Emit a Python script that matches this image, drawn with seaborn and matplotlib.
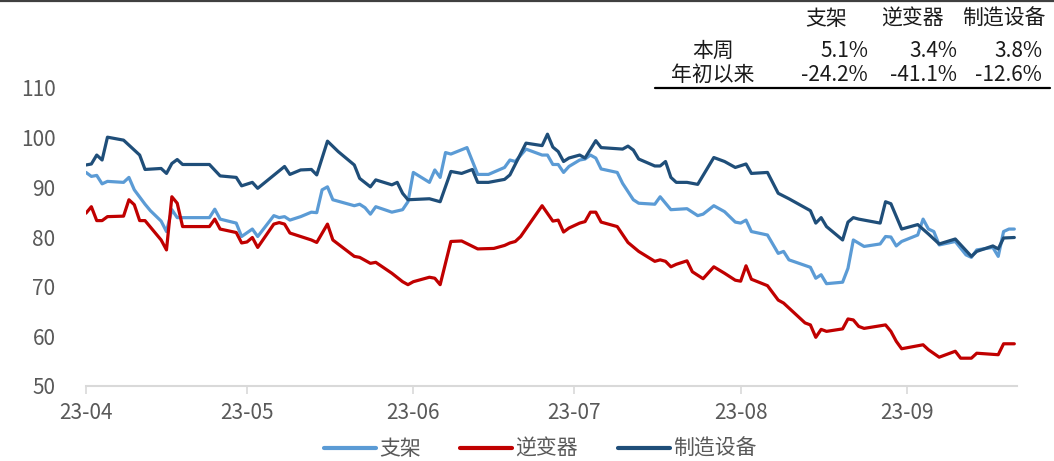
import pandas as pd
import matplotlib
matplotlib.use("Agg")
import matplotlib.pyplot as plt
import matplotlib.dates as mdates
from matplotlib.lines import Line2D
import seaborn as sns

# ---------------- data ----------------
series_names = ["支架", "逆变器", "制造设备"]

zhijia_dates = ["04-01", "04-02", "04-03", "04-04", "04-05", "04-08", "04-09", "04-10", "04-12", "04-13",
                "04-15", "04-16", "04-17", "04-18", "04-24", "04-25", "04-26", "04-29", "04-30", "05-02",
                "05-03", "05-06", "05-07", "05-08", "05-09", "05-11", "05-13", "05-14", "05-15", "05-16",
                "05-17", "05-21", "05-22", "05-23", "05-24", "05-25", "05-28", "05-30", "05-31", "06-01",
                "06-04", "06-05", "06-06", "06-07", "06-08", "06-11", "06-13", "06-15", "06-18", "06-19",
                "06-20", "06-22", "06-25", "06-26", "06-27", "06-28", "06-29", "06-30", "07-02", "07-03",
                "07-04", "07-05", "07-06", "07-09", "07-10", "07-12", "07-13", "07-16", "07-17", "07-19",
                "07-22", "07-24", "07-25", "07-27", "07-29", "07-31", "08-01", "08-02", "08-03", "08-06",
                "08-08", "08-09", "08-10", "08-14", "08-15", "08-16", "08-17", "08-20", "08-21", "08-22",
                "08-24", "08-27", "08-28", "08-29", "08-30", "08-31", "09-03", "09-04", "09-05", "09-06",
                "09-07", "09-10", "09-12", "09-13", "09-14", "09-17", "09-18", "09-19", "09-20", "09-21"]
zhijia_values = [93.0, 92.2, 92.4, 90.7, 91.2, 91.0, 92.0, 89.5, 86.6, 85.3,
                 83.2, 81.1, 85.5, 83.9, 83.9, 85.6, 83.6, 82.8, 80.1, 81.6,
                 80.1, 84.3, 83.9, 84.1, 83.4, 84.1, 85.0, 84.9, 89.5, 90.1,
                 87.5, 86.3, 86.6, 85.9, 84.6, 86.1, 85.0, 85.5, 87.1, 93.0,
                 91.0, 93.5, 92.0, 97.0, 96.7, 98.0, 92.6, 92.6, 94.0, 95.5,
                 95.2, 97.7, 96.5, 96.5, 94.6, 94.6, 93.0, 94.2, 95.5, 95.7,
                 96.5, 95.9, 93.7, 93.0, 90.8, 87.5, 86.8, 86.6, 88.1, 85.5,
                 85.7, 84.3, 84.6, 86.3, 85.1, 83.0, 82.8, 83.4, 81.1, 80.4,
                 76.7, 77.1, 75.4, 73.9, 71.7, 72.4, 70.6, 70.9, 73.7, 79.4,
                 78.1, 78.6, 80.1, 80.0, 78.2, 79.1, 80.4, 83.6, 81.6, 81.1,
                 78.4, 79.1, 76.4, 75.9, 77.4, 77.9, 76.1, 81.1, 81.6, 81.6]

nbq_dates = ["04-01", "04-02", "04-03", "04-04", "04-05", "04-08", "04-09", "04-10", "04-11", "04-12",
             "04-15", "04-16", "04-17", "04-18", "04-19", "04-24", "04-25", "04-26", "04-29", "04-30",
             "05-01", "05-02", "05-03", "05-06", "05-07", "05-08", "05-09", "05-13", "05-14", "05-16",
             "05-17", "05-21", "05-22", "05-24", "05-25", "05-28", "05-30", "05-31", "06-01", "06-04",
             "06-05", "06-06", "06-08", "06-10", "06-13", "06-16", "06-18", "06-19", "06-20", "06-21",
             "06-25", "06-27", "06-28", "06-29", "06-30", "07-02", "07-03", "07-04", "07-05", "07-06",
             "07-09", "07-11", "07-13", "07-16", "07-17", "07-18", "07-19", "07-20", "07-22", "07-23",
             "07-25", "07-27", "07-29", "07-31", "08-01", "08-02", "08-03", "08-06", "08-08", "08-09",
             "08-13", "08-14", "08-15", "08-16", "08-17", "08-20", "08-21", "08-22", "08-23", "08-24",
             "08-28", "08-29", "08-30", "08-31", "09-04", "09-05", "09-07", "09-10", "09-11", "09-13",
             "09-14", "09-18", "09-19", "09-21"]
nbq_values = [84.8, 86.1, 83.3, 83.3, 84.1, 84.2, 87.5, 86.5, 83.3, 83.3,
              79.4, 77.4, 88.1, 86.8, 82.1, 82.1, 83.6, 81.6, 80.9, 78.8,
              79.0, 79.9, 77.9, 82.6, 82.9, 82.6, 80.8, 79.4, 78.9, 82.6,
              79.4, 76.1, 75.9, 74.7, 74.9, 72.7, 71.0, 70.4, 71.0, 71.9,
              71.7, 70.4, 79.1, 79.2, 77.6, 77.7, 78.3, 78.8, 79.1, 80.1,
              86.3, 83.2, 83.4, 81.0, 81.8, 82.8, 83.1, 85.0, 85.0, 83.0,
              82.1, 78.9, 77.1, 75.1, 75.4, 75.1, 74.0, 74.5, 75.2, 73.0,
              71.6, 74.0, 72.7, 71.3, 71.1, 74.2, 71.5, 70.2, 67.3, 66.7,
              62.7, 62.3, 59.8, 61.4, 61.0, 61.5, 63.5, 63.3, 62.0, 61.6,
              62.3, 61.0, 59.0, 57.5, 58.3, 57.3, 55.8, 57.0, 55.6, 55.6,
              56.6, 56.3, 58.5, 58.5]

zzsb_dates = ["04-01", "04-02", "04-03", "04-04", "04-05", "04-08", "04-10", "04-11", "04-12", "04-15",
              "04-16", "04-17", "04-18", "04-19", "04-24", "04-26", "04-29", "04-30", "05-02", "05-03",
              "05-08", "05-09", "05-11", "05-13", "05-14", "05-16", "05-18", "05-21", "05-22", "05-24",
              "05-25", "05-28", "05-29", "05-30", "05-31", "06-04", "06-06", "06-08", "06-10", "06-12",
              "06-13", "06-15", "06-18", "06-19", "06-22", "06-25", "06-26", "06-27", "06-28", "06-29",
              "06-30", "07-02", "07-03", "07-05", "07-06", "07-10", "07-11", "07-12", "07-13", "07-16",
              "07-17", "07-18", "07-19", "07-20", "07-22", "07-24", "07-27", "07-29", "07-31", "08-02",
              "08-03", "08-06", "08-08", "08-10", "08-14", "08-15", "08-16", "08-17", "08-20", "08-21",
              "08-22", "08-23", "08-27", "08-28", "08-29", "08-31", "09-03", "09-05", "09-07", "09-10",
              "09-13", "09-14", "09-17", "09-18", "09-19", "09-21"]
zzsb_values = [94.5, 94.7, 96.5, 95.5, 100.1, 99.5, 97.5, 96.5, 93.6, 93.8,
               92.8, 94.8, 95.6, 94.6, 94.6, 92.3, 92.0, 90.3, 91.0, 89.8,
               94.2, 92.6, 93.5, 93.6, 92.5, 99.3, 97.2, 94.5, 91.8, 90.1,
               91.5, 90.5, 91.0, 88.8, 87.5, 87.7, 87.1, 93.2, 92.8, 93.6,
               91.0, 91.0, 91.6, 92.5, 98.9, 98.4, 100.7, 98.1, 97.2, 95.2,
               95.9, 96.5, 95.9, 99.4, 98.0, 97.7, 98.3, 97.5, 95.7, 94.3,
               94.3, 95.2, 92.0, 91.0, 91.0, 90.6, 96.0, 95.2, 94.0, 94.7,
               92.8, 93.0, 88.8, 87.7, 85.3, 82.8, 83.9, 82.1, 79.4, 83.0,
               83.9, 83.6, 82.8, 87.1, 86.7, 81.6, 82.5, 80.6, 78.6, 79.6,
               76.1, 77.1, 78.2, 77.6, 79.8, 79.9]

table_cols = ["支架", "逆变器", "制造设备"]
table_rows = ["本周", "年初以来"]
week_chg = ["5.1%", "3.4%", "3.8%"]
ytd_chg = ["-24.2%", "-41.1%", "-12.6%"]

y_ticks = [50, 60, 70, 80, 90, 100, 110]
month_ticks = ["2023-04-01", "2023-05-01", "2023-06-01", "2023-07-01", "2023-08-01", "2023-09-01"]

# ---------------- frame ----------------
frames = []
for name, d, v in [("支架", zhijia_dates, zhijia_values),
                   ("逆变器", nbq_dates, nbq_values),
                   ("制造设备", zzsb_dates, zzsb_values)]:
    frames.append(pd.DataFrame({"date": pd.to_datetime(["2023-" + s for s in d]),
                                "value": v, "series": name}))
df = pd.concat(frames, ignore_index=True)

palette = {"支架": "#5B9BD5", "逆变器": "#C00000", "制造设备": "#1F4E79"}

sns.set_theme(style="white")
plt.rcParams["font.family"] = ["Noto Sans CJK SC", "DejaVu Sans"]
plt.rcParams["axes.unicode_minus"] = False

W, H = 1054, 461
fig = plt.figure(figsize=(W / 100, H / 100), dpi=100)
ax = fig.add_axes([86 / W, 1 - 386 / H, (1017 - 86) / W, (386 - 88) / H])

sns.lineplot(data=df, x="date", y="value", hue="series", hue_order=series_names,
             palette=palette, linewidth=2.3, ax=ax, estimator=None, sort=True, legend=False)

ax.set_xlim(pd.Timestamp("2023-04-01"), pd.Timestamp("2023-09-21 12:00"))
ax.set_ylim(50, 110)
ax.set_yticks(y_ticks)
ax.set_xticks(pd.to_datetime(month_ticks))
ax.xaxis.set_major_formatter(mdates.DateFormatter("%y-%m"))
ax.set_xlabel("")
ax.set_ylabel("")

for s in ["top", "right", "left"]:
    ax.spines[s].set_visible(False)
ax.spines["bottom"].set_color("#D9D9D9")
ax.spines["bottom"].set_linewidth(1.5)

gray = "#595959"
ax.tick_params(axis="y", length=0, pad=22, labelsize=15, labelcolor=gray)
ax.tick_params(axis="x", direction="out", length=5.5, width=1.2, color="#D9D9D9",
               pad=6, labelsize=15, labelcolor=gray, bottom=True)
ax.grid(False)

handles = [Line2D([0], [0], color=palette[n], lw=3) for n in series_names]
leg = ax.legend(handles, series_names, loc="center", bbox_to_anchor=(540 / W, 1 - 449 / H),
                bbox_transform=fig.transFigure, ncol=3, frameon=False, fontsize=15,
                handlelength=2.5, handletextpad=0.15, columnspacing=1.9)
for t in leg.get_texts():
    t.set_color(gray)

# ---------------- table ----------------
def fx(x):
    return x / W

def fy(y):
    return 1 - y / H

tcolor = "#1a1a1a"
fs = 15
header_x = [826, 912, 1004]
value_right = [868, 957, 1042]
for cx, txt in zip(header_x, table_cols):
    fig.text(fx(cx), fy(19), txt, ha="center", va="center", fontsize=fs, color=tcolor)
fig.text(fx(713), fy(51), table_rows[0], ha="center", va="center", fontsize=fs, color=tcolor)
fig.text(fx(713), fy(75), table_rows[1], ha="center", va="center", fontsize=fs, color=tcolor)
for rx, w, y in zip(value_right, week_chg, [51] * 3):
    fig.text(fx(rx), fy(y), w, ha="right", va="center", fontsize=fs, color=tcolor)
for rx, w in zip(value_right, ytd_chg):
    fig.text(fx(rx), fy(75), w, ha="right", va="center", fontsize=fs, color=tcolor)

fig.add_artist(Line2D([fx(655), fx(1050)], [fy(88), fy(88)], color="black", lw=1.6,
                      transform=fig.transFigure))
fig.add_artist(Line2D([0, 1], [fy(0.8), fy(0.8)], color="#404040", lw=1.6,
                      transform=fig.transFigure))

fig.savefig("out.png", dpi=100)
